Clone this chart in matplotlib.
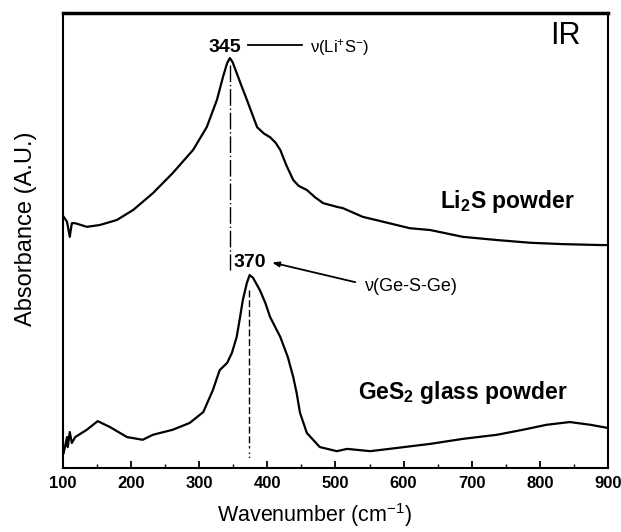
import numpy as np
import matplotlib
matplotlib.use("Agg")
import matplotlib.pyplot as plt

plt.rcParams['font.family'] = ['Liberation Sans', 'DejaVu Sans']
plt.rcParams['mathtext.fontset'] = 'custom'
plt.rcParams['mathtext.rm'] = 'Liberation Sans'
plt.rcParams['mathtext.bf'] = 'Liberation Sans:bold'
plt.rcParams['mathtext.it'] = 'Liberation Sans:italic'

# ============= data =============
# Li2S powder (upper trace), absorbance in arbitrary units
li2s_wn = [101, 106, 110, 113, 118, 135, 154, 179, 203, 232, 261, 291, 311, 326,
           335, 341, 345, 349, 355, 362, 370, 385, 395, 404, 412, 419, 428, 438,
           446, 458, 470, 482, 502, 511, 540, 565, 609, 639, 687, 737, 786, 834,
           888, 900]
li2s_abs = [0.552, 0.541, 0.508, 0.538, 0.538, 0.530, 0.534, 0.545, 0.567, 0.604,
            0.648, 0.699, 0.749, 0.809, 0.860, 0.890, 0.901, 0.892, 0.868, 0.840,
            0.809, 0.749, 0.735, 0.727, 0.715, 0.699, 0.665, 0.633, 0.620, 0.611,
            0.595, 0.582, 0.574, 0.571, 0.552, 0.543, 0.527, 0.523, 0.508, 0.501,
            0.495, 0.492, 0.490, 0.490]

# GeS2 glass powder (lower trace)
ges2_wn = [101, 106, 107, 110, 113, 118, 135, 151, 169, 194, 217, 232, 261, 286,
           306, 320, 330, 341, 348, 355, 360, 364, 370, 374, 379, 389, 397, 404,
           419, 430, 438, 443, 448, 458, 477, 502, 517, 551, 590, 639, 687, 737,
           775, 810, 844, 874, 900]
ges2_abs = [0.033, 0.068, 0.046, 0.079, 0.055, 0.068, 0.084, 0.103, 0.090, 0.068,
            0.062, 0.073, 0.084, 0.099, 0.123, 0.171, 0.215, 0.231, 0.253, 0.288,
            0.332, 0.369, 0.407, 0.424, 0.418, 0.391, 0.363, 0.332, 0.288, 0.244,
            0.200, 0.165, 0.121, 0.077, 0.046, 0.037, 0.042, 0.037, 0.044, 0.053,
            0.064, 0.073, 0.084, 0.095, 0.101, 0.095, 0.088]

xticks = [100, 200, 300, 400, 500, 600, 700, 800, 900]


# ============= plotting =============
fig = plt.figure(figsize=(6.21, 5.32), dpi=100)
ax = fig.add_axes([0.1014, 0.1203, 0.8776, 0.8553])

ax.plot(li2s_wn, li2s_abs, color='black', lw=1.6, solid_joinstyle='round')
ax.plot(ges2_wn, ges2_abs, color='black', lw=1.6, solid_joinstyle='round')

# peak markers
ax.plot([345, 345], [0.886, 0.435], color='black', lw=1.0, ls=(0, (12, 2, 1, 2)))
ax.plot([373, 373], [0.391, 0.045], color='black', lw=1.0, ls=(0, (5, 2)))
ax.plot([373, 373], [0.035, 0.022], color='black', lw=1.0, ls=(0, (1, 2)))

# peak labels
ax.text(338, 0.925, "345", ha='center', va='center', fontsize=14, fontweight='bold')
ax.plot([371, 451], [0.930, 0.930], color='black', lw=1.3)
ax.text(462, 0.925, r"ν(Li$^{+}$S$^{-}$)", ha='left', va='center', fontsize=12)

ax.text(374, 0.451, "370", ha='center', va='center', fontsize=14, fontweight='bold')
ax.annotate("", xy=(403, 0.453), xytext=(533, 0.407),
            arrowprops=dict(arrowstyle='-|>,head_length=0.4,head_width=0.15',
                            color='black', lw=1.3))
ax.text(543, 0.398, "ν(Ge-S-Ge)", ha='left', va='center', fontsize=13)

# trace names
ax.text(653, 0.585, r"Li$_\mathbf{2}$S powder", ha='left', va='center',
        fontsize=16.5, fontweight='bold')
ax.text(533, 0.167, r"GeS$_\mathbf{2}$ glass powder", ha='left', va='center',
        fontsize=16.5, fontweight='bold')
ax.text(815, 0.949, "IR", ha='left', va='center', fontsize=22)

ax.set_xlim(100, 900)
ax.set_ylim(0, 1)
ax.set_xticks(xticks)
ax.set_xticklabels([str(v) for v in xticks], fontsize=12, fontweight='bold')
ax.set_xticks(np.arange(150, 900, 100), minor=True)
ax.set_yticks([])
ax.tick_params(axis='x', which='major', direction='in', length=5, width=1.3, pad=6)
ax.tick_params(axis='x', which='minor', direction='in', length=3, width=1.0)

for side in ['left', 'right', 'bottom']:
    ax.spines[side].set_linewidth(1.5)
ax.spines['top'].set_linewidth(2.5)

ax.set_xlabel(r"Wavenumber (cm$^{-1}$)", fontsize=15.5)
ax.xaxis.set_label_coords(0.462, -0.072)
ax.set_ylabel("Absorbance (A.U.)", fontsize=17)
ax.yaxis.set_label_coords(-0.048, 0.525)

fig.savefig("out.png", dpi=100)
